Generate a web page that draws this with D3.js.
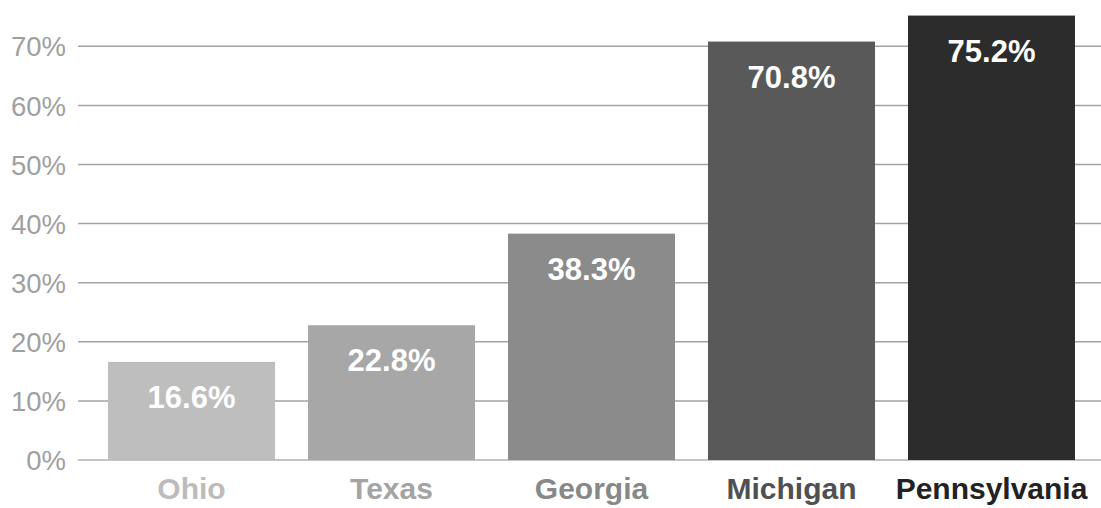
<!DOCTYPE html>
<html>
<head>
<meta charset="utf-8">
<script src="https://cdn.jsdelivr.net/npm/d3@7"></script>
<style>
  html, body { margin: 0; padding: 0; background: #ffffff; }
  svg { display: block; }
</style>
</head>
<body>
<svg id="chart" width="1101" height="508"></svg>
<script>
const categories = ["Ohio", "Texas", "Georgia", "Michigan", "Pennsylvania"];
const values = [16.6, 22.8, 38.3, 70.8, 75.2];
const valueLabels = ["16.6%", "22.8%", "38.3%", "70.8%", "75.2%"];
const tickValues = [0, 10, 20, 30, 40, 50, 60, 70];
const tickLabels = ["0%", "10%", "20%", "30%", "40%", "50%", "60%", "70%"];
const barColors = ["#bebebe", "#a7a7a7", "#8b8b8b", "#595959", "#2c2c2c"];
const labelColors = ["#bcbcbc", "#a4a4a4", "#888888", "#505050", "#222222"];

const W = 1101, H = 508;
const svg = d3.select("#chart");

const x = d3.scaleBand()
  .domain(categories)
  .range([91.5, 1091.5])
  .paddingInner(0.165)
  .paddingOuter(0.0825);

const y = d3.scaleLinear()
  .domain([0, 70])
  .range([460, 46.3]);

// gridlines
const grid = svg.append("g");
grid.selectAll("line")
  .data(tickValues)
  .join("line")
  .attr("x1", 78)
  .attr("x2", W)
  .attr("y1", d => y(d))
  .attr("y2", d => y(d))
  .attr("stroke", d => d === 0 ? "#c4c4c4" : "#a3a3a3")
  .attr("stroke-width", d => d === 0 ? 2 : 1.5);

// y-axis labels
const yAxis = d3.axisLeft(y)
  .tickValues(tickValues)
  .tickFormat((d, i) => tickLabels[i])
  .tickSize(0)
  .tickPadding(0);
const ya = svg.append("g").attr("transform", "translate(66,0)").call(yAxis);
ya.select(".domain").remove();
ya.selectAll("text")
  .attr("font-family", "'Liberation Sans', Arial, sans-serif")
  .attr("font-size", 27.5)
  .attr("fill", "#a0a0a0")
  .attr("dy", "0.35em");

// bars
svg.append("g").selectAll("rect")
  .data(values)
  .join("rect")
  .attr("x", (d, i) => x(categories[i]))
  .attr("width", x.bandwidth())
  .attr("y", d => y(d))
  .attr("height", d => y(0) - y(d))
  .attr("fill", (d, i) => barColors[i]);

// value labels
svg.append("g").selectAll("text")
  .data(values)
  .join("text")
  .attr("x", (d, i) => x(categories[i]) + x.bandwidth() / 2)
  .attr("y", d => y(d) + 46)
  .attr("text-anchor", "middle")
  .attr("font-family", "'Liberation Sans', Arial, sans-serif")
  .attr("font-weight", "bold")
  .attr("font-size", 31)
  .attr("fill", "#ffffff")
  .text((d, i) => valueLabels[i]);

// category labels
const xAxis = d3.axisBottom(x).tickSize(0).tickPadding(0);
const xa = svg.append("g").attr("transform", "translate(0,499)").call(xAxis);
xa.select(".domain").remove();
xa.selectAll("text")
  .attr("dy", 0)
  .attr("y", 0)
  .attr("font-family", "'Liberation Sans', Arial, sans-serif")
  .attr("font-weight", "bold")
  .attr("font-size", 30)
  .attr("fill", (d, i) => labelColors[i]);
</script>
</body>
</html>
